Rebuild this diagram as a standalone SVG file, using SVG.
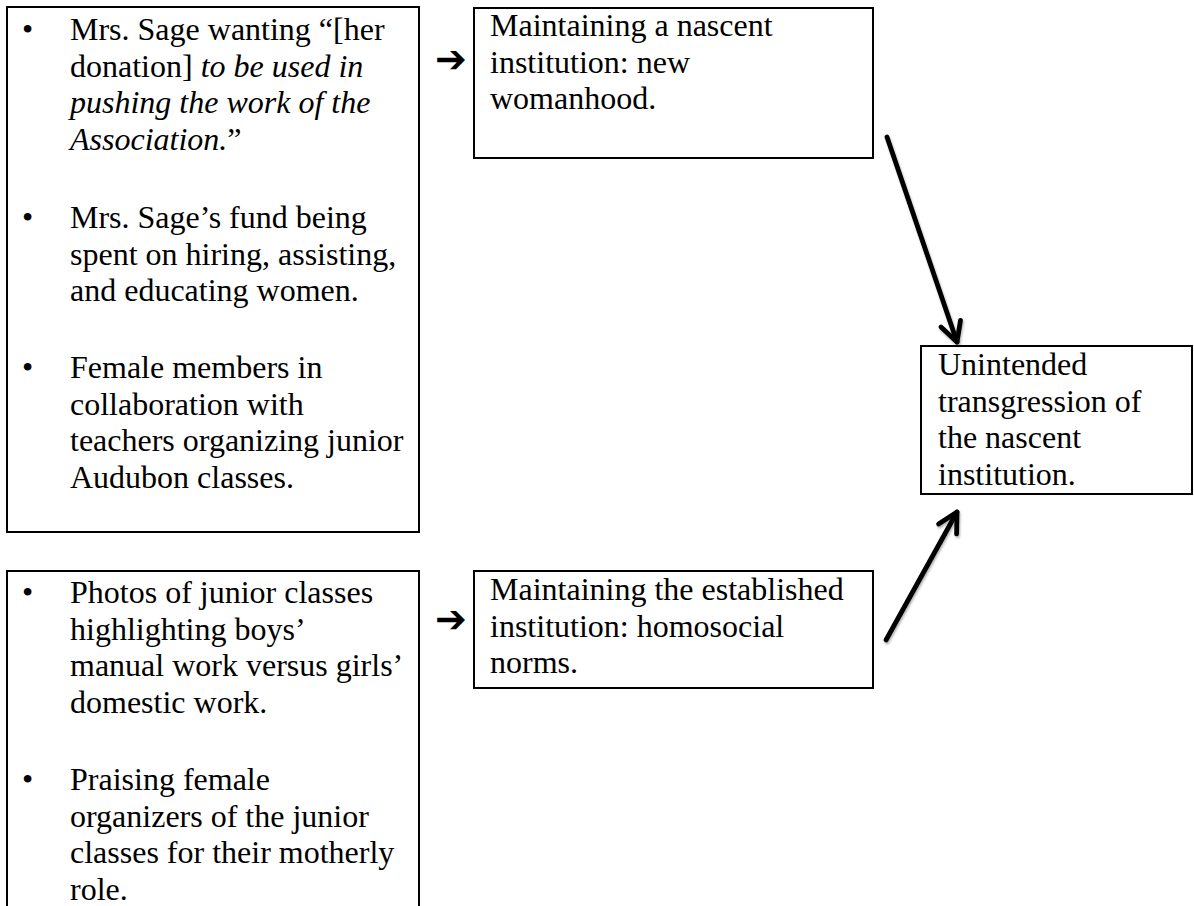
<svg xmlns="http://www.w3.org/2000/svg" width="1194" height="906" viewBox="0 0 1194 906">
<style>
.box{fill:#fff;stroke:#000;stroke-width:2}
.t{font-family:"Liberation Serif","Times New Roman",serif;font-size:32px;fill:#000}
.i{font-style:italic}
.sym{font-family:"DejaVu Sans",sans-serif;font-size:38px;fill:#000;font-weight:bold}
.conn{fill:none;stroke:#000;stroke-width:4.8;stroke-linecap:round;stroke-linejoin:round}
</style>
<defs>
<filter id="shadow" x="-20%" y="-20%" width="140%" height="140%">
<feDropShadow dx="1" dy="2" stdDeviation="1.2" flood-color="#000" flood-opacity="0.3"/>
</filter>
<marker id="vhead" markerUnits="userSpaceOnUse" viewBox="-26 -14 30 28" refX="0" refY="0" markerWidth="30" markerHeight="28" orient="auto">
<path d="M -19.4 -10.3 L 0 0 L -19.4 10.3" fill="none" stroke="#000" stroke-width="4.8" stroke-linecap="round" stroke-linejoin="round"/>
</marker>
</defs>
<rect width="1194" height="906" fill="#fff"/>

<g id="evidence-new">
<rect class="box" x="7" y="7" width="412" height="525"/>
<text class="t" x="22" y="40">•</text>
<text class="t" x="70" y="40">Mrs. Sage wanting “[her</text>
<text class="t" x="70" y="77">donation] <tspan class="i">to be used in</tspan></text>
<text class="t i" x="70" y="113">pushing the work of the</text>
<text class="t" x="70" y="150"><tspan class="i">Association.</tspan>”</text>
<text class="t" x="22" y="228">•</text>
<text class="t" x="70" y="228">Mrs. Sage’s fund being</text>
<text class="t" x="70" y="265">spent on hiring, assisting,</text>
<text class="t" x="70" y="301">and educating women.</text>
<text class="t" x="22" y="378">•</text>
<text class="t" x="70" y="378">Female members in</text>
<text class="t" x="70" y="415">collaboration with</text>
<text class="t" x="70" y="451">teachers organizing junior</text>
<text class="t" x="70" y="488">Audubon classes.</text>
</g>

<g id="evidence-established">
<rect class="box" x="7" y="571" width="412" height="400"/>
<text class="t" x="22" y="603">•</text>
<text class="t" x="70" y="603">Photos of junior classes</text>
<text class="t" x="70" y="640">highlighting boys’</text>
<text class="t" x="70" y="676">manual work versus girls’</text>
<text class="t" x="70" y="713">domestic work.</text>
<text class="t" x="22" y="790">•</text>
<text class="t" x="70" y="790">Praising female</text>
<text class="t" x="70" y="827">organizers of the junior</text>
<text class="t" x="70" y="863">classes for their motherly</text>
<text class="t" x="70" y="900">role.</text>
</g>

<g id="nascent">
<text class="sym" x="435" y="72">➔</text>
<rect class="box" x="474" y="8" width="399" height="150"/>
<text class="t" x="490" y="36">Maintaining a nascent</text>
<text class="t" x="490" y="73">institution: new</text>
<text class="t" x="490" y="109">womanhood.</text>
</g>

<g id="established">
<text class="sym" x="435" y="632">➔</text>
<rect class="box" x="474" y="571" width="399" height="117"/>
<text class="t" x="490" y="600">Maintaining the established</text>
<text class="t" x="490" y="637">institution: homosocial</text>
<text class="t" x="490" y="673">norms.</text>
</g>

<g id="transgression">
<rect class="box" x="921" y="346" width="271" height="148"/>
<text class="t" x="938" y="375">Unintended</text>
<text class="t" x="938" y="412">transgression of</text>
<text class="t" x="938" y="448">the nascent</text>
<text class="t" x="938" y="485">institution.</text>
</g>

<g id="connectors" filter="url(#shadow)">
<path class="conn" d="M 887 137 L 957 342" marker-end="url(#vhead)"/>
<path class="conn" d="M 886 640 L 957 512" marker-end="url(#vhead)"/>
</g>
</svg>
